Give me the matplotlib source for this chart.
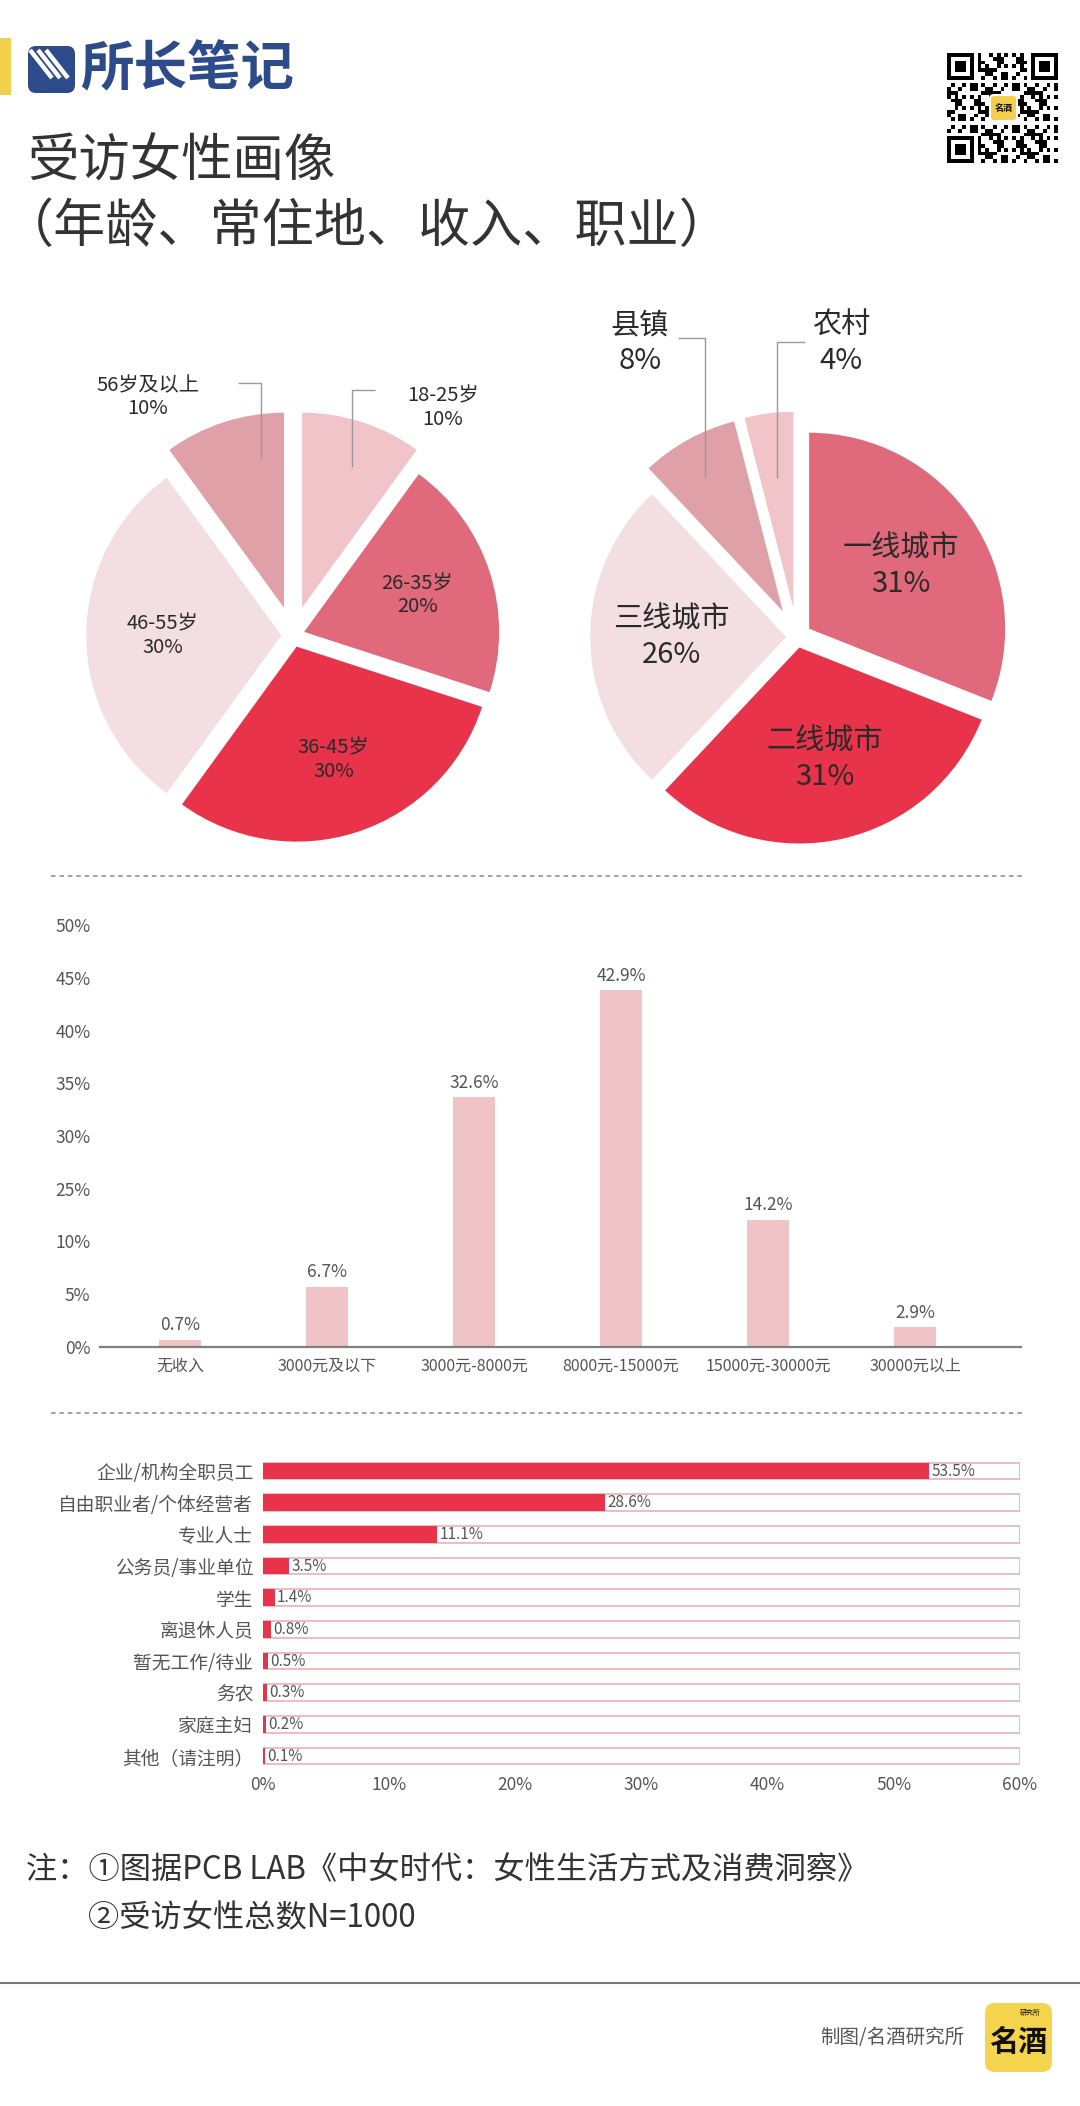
import numpy as np
import matplotlib
matplotlib.use('Agg')
import matplotlib.pyplot as plt
from matplotlib.patches import FancyBboxPatch, Rectangle

plt.rcParams['font.family'] = ['Noto Sans CJK SC', 'DejaVu Sans']

# ---------------- data ----------------
age_labels = ['18-25岁', '26-35岁', '36-45岁', '46-55岁', '56岁及以上']
age_pct = [10, 20, 30, 30, 10]

city_labels = ['一线城市', '二线城市', '三线城市', '县镇', '农村']
city_pct = [31, 31, 26, 8, 4]

income_labels = ['无收入', '3000元及以下', '3000元-8000元', '8000元-15000元',
                 '15000元-30000元', '30000元以上']
income_pct = [0.7, 6.7, 32.6, 42.9, 14.2, 2.9]
# bar heights as drawn in the picture, measured in tick steps of the y axis
income_bar_steps = [0.14, 1.14, 4.73, 6.76, 2.41, 0.37]
income_tick_labels = ['0%', '5%', '10%', '25%', '30%', '35%', '40%', '45%', '50%']

job_labels = ['企业/机构全职员工', '自由职业者/个体经营者', '专业人士', '公务员/事业单位',
              '学生', '离退休人员', '暂无工作/待业', '务农', '家庭主妇', '其他（请注明）']
job_pct = [53.5, 28.6, 11.1, 3.5, 1.4, 0.8, 0.5, 0.3, 0.2, 0.1]
# bar lengths as drawn in the picture (percent axis)
job_bar_len = [52.8, 27.1, 13.8, 2.1, 0.95, 0.63, 0.4, 0.33, 0.25, 0.15]
job_ticks = [0, 10, 20, 30, 40, 50, 60]

# ---------------- style ----------------
RED = '#e8334a'
MID = '#e06a7b'
DUSTY = '#e0a0a8'
LIGHT = '#f0c4c8'
PALE = '#f3dee1'
age_colors = [LIGHT, MID, RED, PALE, DUSTY]
city_colors = [MID, RED, PALE, DUSTY, LIGHT]
BAR_PINK = '#f0c3c6'
TXT = '#333333'

W, H = 1080, 2106
fig = plt.figure(figsize=(W / 100, H / 100), dpi=100)
fig.patch.set_facecolor('white')


def Y(y):
    return H - y


def frac(x0, y0, x1, y1):
    return [x0 / W, 1 - y1 / H, (x1 - x0) / W, (y1 - y0) / H]


ax0 = fig.add_axes([0, 0, 1, 1])


def draw_pie(values, names, colors, cx, cy, r, expl, inside, outside,
             fs_in, fs_out, ls_in, ls_out, dist_in):
    wedges, _ = ax0.pie(values, radius=r, center=(cx, Y(cy)), startangle=90,
                        counterclock=False, colors=colors,
                        explode=[e * r for e in expl],
                        wedgeprops=dict(linewidth=0))
    for i in inside:
        w = wedges[i]
        mid = np.deg2rad((w.theta1 + w.theta2) / 2)
        ax0.text(cx + dist_in * r * np.cos(mid), Y(cy) + dist_in * r * np.sin(mid),
                 f'{names[i]}\n{values[i]}%', ha='center', va='center',
                 fontsize=fs_in, color='#2a2a2a', linespacing=ls_in)
    for i, (lab, pts) in outside.items():
        xs = [cx + p[0] for p in pts]
        ys = [Y(cy + p[1]) for p in pts]
        ax0.plot(xs, ys, color='#9a9a9a', lw=1.0, solid_capstyle='butt')
        ax0.text(cx + lab[0], Y(cy + lab[1]), f'{names[i]}\n{values[i]}%',
                 ha='center', va='center', fontsize=fs_out, color='#2a2a2a',
                 linespacing=ls_out)


# ---- pie 1: age ----
draw_pie(age_pct, age_labels, age_colors, 293, 635.5, 195,
         [0.15, 0.06, 0.06, 0.06, 0.15], [1, 2, 3],
         {4: ((-145, -238.5), [(-32, -176.5), (-32, -252.5), (-55, -252.5)]),
          0: ((150, -227.5), [(59, -168.5), (59, -245.5), (82, -245.5)])},
         14.5, 14.5, 1.15, 1.15, 0.67)

# ---- pie 2: residence ----
draw_pie(city_pct, city_labels, city_colors, 797, 637, 196,
         [0.075, 0.055, 0.055, 0.15, 0.15], [0, 1, 2],
         {3: ((-157, -294), [(-92, -160), (-92, -299), (-119, -299)]),
          4: ((44, -294), [(-20, -159), (-20, -295), (8, -295)])},
         21, 21, 1.25, 1.25, 0.64)

ax0.set_xlim(0, W)
ax0.set_ylim(0, H)
ax0.set_aspect('auto')
ax0.axis('off')

# ---- header ----
ax0.add_patch(Rectangle((0, Y(95)), 11, 57, fc='#f2d04b', ec='none'))
icon = FancyBboxPatch((28, Y(93)), 47, 47, boxstyle='round,pad=0,rounding_size=8',
                      fc='#2d4a8b', ec='none')
ax0.add_patch(icon)
for k in range(3):
    ln, = ax0.plot([30 + k * 8, 52 + k * 8], [Y(50), Y(78)], color='white', lw=3.2,
                   solid_capstyle='butt')
    ln.set_clip_path(icon)
ax0.text(80, Y(70), '所长笔记', fontsize=38.5, fontweight='heavy', color='#2d4a8b',
         ha='left', va='center')
ax0.text(27, Y(162), '受访女性画像', fontsize=37, color=TXT, ha='left', va='center')
ax0.text(2, Y(227), '（年龄、常住地、收入、职业）', fontsize=37.5, color=TXT,
         ha='left', va='center')

# QR-like badge (decorative)
n = 29
ii, jj = np.meshgrid(np.arange(n), np.arange(n), indexing='ij')
qr = (((ii * 31 + jj * 17 + ii * jj * 7) % 11) < 5).astype(float)
for (r0, c0) in [(0, 0), (0, n - 7), (n - 7, 0)]:
    qr[max(r0 - 1, 0):r0 + 8, max(c0 - 1, 0):c0 + 8] = 0
    qr[r0:r0 + 7, c0:c0 + 7] = 1
    qr[r0 + 1:r0 + 6, c0 + 1:c0 + 6] = 0
    qr[r0 + 2:r0 + 5, c0 + 2:c0 + 5] = 1
ax0.imshow(qr, cmap='gray_r', extent=(947, 1058, Y(163), Y(53)),
           interpolation='nearest', aspect='auto', zorder=2)
ax0.add_patch(FancyBboxPatch((990, Y(121)), 27, 26, boxstyle='round,pad=0,rounding_size=4',
                             fc='#f2d04b', ec='white', lw=1.5, zorder=3))
ax0.text(1003.5, Y(108), '名酒', fontsize=6.5, fontweight='bold', color='#111',
         ha='center', va='center', zorder=4)
ax0.set_xlim(0, W)
ax0.set_ylim(0, H)

# ---- separators ----
for yy in (876, 1413):
    ax0.plot([51, 1023], [Y(yy), Y(yy)], color='#8a8a8a', lw=1.1, ls=(0, (3, 2.5)))

# ---- income bar chart ----
ax1 = fig.add_axes(frac(100, 925, 1021, 1347))
ax1.patch.set_alpha(0)
xs = np.arange(len(income_labels))
bars = ax1.bar(xs, income_bar_steps, width=0.29, color=BAR_PINK)
ax1.bar_label(bars, labels=[f'{v}%' for v in income_pct], padding=4,
              fontsize=12.5, color='#555555', fontweight='light')
ax1.set_xlim(-0.544, 5.72)
ax1.set_ylim(0, 8)
ax1.set_yticks(range(len(income_tick_labels)), income_tick_labels)
ax1.set_xticks(xs, income_labels)
ax1.tick_params(axis='both', length=0, colors='#555555')
ax1.tick_params(axis='y', pad=7, labelsize=12.5)
ax1.tick_params(axis='x', pad=8, labelsize=11.5)
for lab in ax1.get_xticklabels() + ax1.get_yticklabels():
    lab.set_fontweight('light')
for s in ('top', 'right', 'left'):
    ax1.spines[s].set_visible(False)
ax1.spines['bottom'].set_color('#808080')
ax1.spines['bottom'].set_linewidth(1.6)

# ---- occupation bar chart ----
ax2 = fig.add_axes(frac(263, 1452, 1020, 1770))
ax2.patch.set_alpha(0)
ys = np.arange(len(job_labels))
ax2.barh(ys, [job_ticks[-1]] * len(ys), height=0.52, color='white',
         edgecolor='#e7b1b8', linewidth=1.2)
rb = ax2.barh(ys, job_bar_len, height=0.52, color=RED, linewidth=0)
ax2.bar_label(rb, labels=[f'{v}%' for v in job_pct], padding=1.5,
              fontsize=11, color='#555555', fontweight='light')
ax2.set_xlim(job_ticks[0], job_ticks[-1])
ax2.set_ylim(9.44, -0.6)
ax2.set_yticks(ys, job_labels)
ax2.set_xticks(job_ticks, [f'{t}%' for t in job_ticks])
ax2.tick_params(axis='both', length=0, colors='#555555')
ax2.tick_params(axis='y', pad=7, labelsize=13.5)
ax2.tick_params(axis='x', pad=4, labelsize=12.5)
for lab in ax2.get_xticklabels() + ax2.get_yticklabels():
    lab.set_fontweight('light')
for s in ax2.spines.values():
    s.set_visible(False)

# ---- notes ----
ax0.text(26, Y(1870), '注：①图据PCB LAB《中女时代：女性生活方式及消费洞察》',
         fontsize=22.5, color=TXT, ha='left', va='center')
ax0.text(88, Y(1918), '②受访女性总数N=1000', fontsize=22.5, color=TXT,
         ha='left', va='center')

# ---- footer ----
ax0.plot([0, W], [Y(1983), Y(1983)], color='#777777', lw=1.5)
ax0.text(964, Y(2037), '制图/名酒研究所', fontsize=14, color='#555555',
         ha='right', va='center')
ax0.add_patch(FancyBboxPatch((985, Y(2072)), 67, 69,
                             boxstyle='round,pad=0,rounding_size=10',
                             fc='#f4d44d', ec='none'))
ax0.text(1018.5, Y(2042), '名酒', fontsize=21, fontweight='heavy', color='#111111',
         ha='center', va='center')
ax0.text(1030, Y(2013), '研究所', fontsize=5, color='#111111', ha='center', va='center')

fig.savefig('out.png', dpi=100, facecolor='white')
